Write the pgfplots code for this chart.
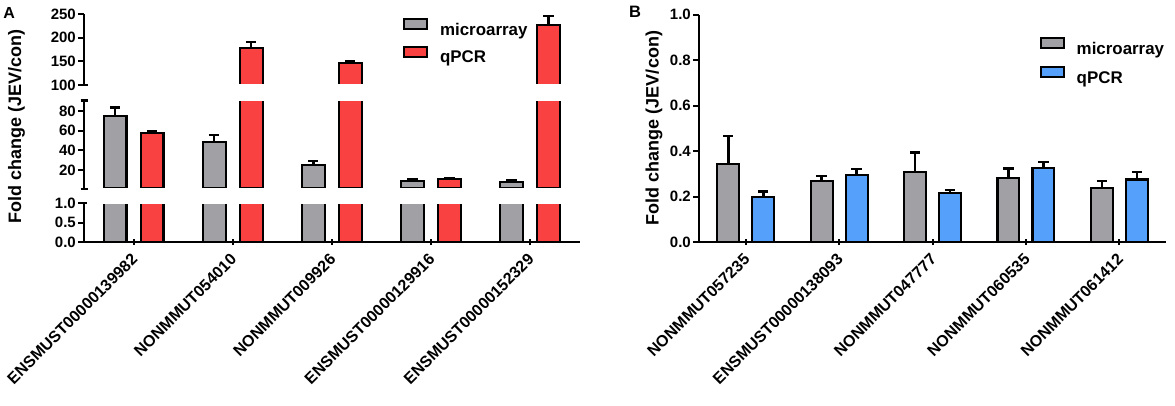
\documentclass[border=0pt]{standalone}
\usepackage{fontspec}
\setmainfont{Liberation Sans}
\usepackage{pgfplots}
\usepackage{pgfplotstable}
\pgfplotsset{compat=1.18}
\definecolor{cgray}{RGB}{160,160,165}
\definecolor{cred}{RGB}{250,65,65}
\definecolor{cblue}{RGB}{85,160,250}

\pgfplotstableread{
x y e
0 74.9 8.9
1 48.5 7.4
2 25.4 3.8
3 8.8 1.4
4 7.5 2.0
}\grayA
\pgfplotstableread{
x y e
0 57.9 2.1
1 177.5 13.3
2 147.1 2.1
3 10.5 1.0
4 227.0 19.0
}\redA
\pgfplotstableread{
x y e
0 0.342 0.125
1 0.268 0.022
2 0.306 0.088
3 0.280 0.044
4 0.236 0.032
}\grayB
\pgfplotstableread{
x y e
0 0.199 0.024
1 0.296 0.025
2 0.214 0.015
3 0.327 0.025
4 0.275 0.033
}\blueB

\pgfplotsset{
  seg/.style={
    scale only axis,
    anchor=south west,
    xmin=-0.5, xmax=4.5,
    axis y line=left,
    tick align=outside,
    major tick length=6pt,
    major tick style={black, line width=2pt},
    yticklabel style={font=\fontsize{15}{18}\selectfont\bfseries, inner xsep=2pt},
    xticklabel style={font=\fontsize{16}{19}\selectfont\bfseries, xshift=-3pt, yshift=-6pt, rotate=45, anchor=north east, inner sep=1pt},
    ybar,
    clip=false,
    extra tick style={tick align=center, major tick length=7pt},
    extra y tick labels={},
  },
  fin/.style={
    axis line style={-, line width=2pt, black},
    every outer x axis line/.append style={-},
    every outer y axis line/.append style={-},
  },
  eb/.style={error bars/.cd, y dir=plus, y explicit, error mark=|,
    error bar style={line width=2.6pt, black},
    error mark options={line width=2.6pt, mark size=5.2pt, black}},
  bstyle/.style={draw=black, fill=#1, line width=2.1pt},
}

\begin{document}
\begin{tikzpicture}
\path[use as bounding box] (0pt,0pt) rectangle (1175pt,405pt);

% ---------- Panel A: bottom segment (0 - 1) ----------
\begin{axis}[seg, at={(84pt,163pt)}, width=495.5pt, height=39pt,
  ymin=0, ymax=1, ytick={0,0.5,1}, yticklabels={0.0,0.5,1.0},
  extra y ticks={1},
  axis x line=bottom,
  xtick={0,1,2,3,4},
  xticklabels={ENSMUST00000139982,NONMMUT054010,NONMMUT009926,ENSMUST00000129916,ENSMUST00000152329},
  bar width=22.9pt, fin]
\begin{scope}
\clip ([yshift=-2pt]rel axis cs:0,0) rectangle ([yshift=-1.3pt]rel axis cs:1,1);
\addplot[bstyle=cgray, bar shift=-18.5pt, eb] table[x=x,y=y,y error=e] {\grayA};
\addplot[bstyle=cred, bar shift=18.5pt, eb] table[x=x,y=y,y error=e] {\redA};
\end{scope}
\end{axis}

% ---------- Panel A: middle segment (1 - 91) ----------
\begin{axis}[seg, at={(84pt,216.5pt)}, width=495.5pt, height=88pt,
  ymin=1, ymax=91, ytick={20,40,60,80}, yticklabels={20,40,60,80},
  extra y ticks={1,91},
  axis x line=none, xtick=\empty,
  ylabel={Fold change (JEV/con)},
  ylabel style={at={(axis description cs:-0.136,0.7045)}, anchor=center, font=\fontsize{18}{21}\selectfont\bfseries},
  bar width=22.9pt, fin]
\begin{scope}
\clip ([yshift=1.3pt]rel axis cs:0,0) rectangle ([yshift=-1.3pt]rel axis cs:1,1);
\addplot[bstyle=cgray, bar shift=-18.5pt, eb] table[x=x,y=y,y error=e] {\grayA};
\addplot[bstyle=cred, bar shift=18.5pt, eb] table[x=x,y=y,y error=e] {\redA};
\end{scope}
\end{axis}

% ---------- Panel A: top segment (100 - 250) ----------
\begin{axis}[seg, at={(84pt,320pt)}, width=495.5pt, height=71pt,
  ymin=100, ymax=250, ytick={100,150,200,250}, yticklabels={100,150,200,250},
  extra y ticks={100},
  axis x line=none, xtick=\empty,
  bar width=22.9pt,
  legend style={at={(axis description cs:0.644,0.942)}, anchor=north west,
    draw=none, fill=none, inner sep=0pt, outer sep=0pt,
    row sep=8.8pt, column sep=12pt,
    font=\fontsize{16.9}{20}\selectfont\bfseries,
    nodes={inner sep=0pt}},
  legend cell align=left, fin]
\begin{scope}
\clip ([yshift=1.3pt]rel axis cs:0,0) rectangle ([yshift=3pt]rel axis cs:1,1);
\addplot[bstyle=cgray, bar shift=-18.5pt,
  legend image code/.code={\draw[draw=black, fill=cgray, line width=2pt] (0pt,0.9pt) rectangle (23pt,10.9pt);}, eb]
  table[x=x,y=y,y error=e] {\grayA};
\addlegendentry{microarray}
\addplot[bstyle=cred, bar shift=18.5pt,
  legend image code/.code={\draw[draw=black, fill=cred, line width=2pt] (0pt,0.9pt) rectangle (23pt,10.9pt);}, eb]
  table[x=x,y=y,y error=e] {\redA};
\addlegendentry{qPCR}
\end{scope}
\end{axis}

% ---------- Panel B ----------
\begin{axis}[seg, at={(699pt,163pt)}, width=467pt, height=227.3pt,
  ymin=0, ymax=1, ytick={0,0.2,0.4,0.6,0.8,1}, yticklabels={0.0,0.2,0.4,0.6,0.8,1.0},
  axis x line=bottom,
  xtick={0,1,2,3,4},
  xticklabels={NONMMUT057235,ENSMUST00000138093,NONMMUT047777,NONMMUT060535,NONMMUT061412},
  ylabel={Fold change (JEV/con)},
  ylabel style={at={(axis description cs:-0.0964,0.5015)}, anchor=center, font=\fontsize{18}{21}\selectfont\bfseries},
  bar width=21.9pt,
  legend style={at={(axis description cs:0.7296,0.900)}, anchor=north west,
    draw=none, fill=none, inner sep=0pt, outer sep=0pt,
    row sep=9.8pt, column sep=12pt,
    font=\fontsize{16.9}{20}\selectfont\bfseries,
    nodes={inner sep=0pt}},
  legend cell align=left, fin]
\addplot[bstyle=cgray, bar shift=-17.5pt,
  legend image code/.code={\draw[draw=black, fill=cgray, line width=2pt] (0pt,0.9pt) rectangle (23pt,10.9pt);}, eb]
  table[x=x,y=y,y error=e] {\grayB};
\addlegendentry{microarray}
\addplot[bstyle=cblue, bar shift=17.5pt,
  legend image code/.code={\draw[draw=black, fill=cblue, line width=2pt] (0pt,0.9pt) rectangle (23pt,10.9pt);}, eb]
  table[x=x,y=y,y error=e] {\blueB};
\addlegendentry{qPCR}
\end{axis}

\node[font=\fontsize{16}{19}\selectfont\bfseries] at (9.2pt,392.5pt) {A};
\node[font=\fontsize{16.5}{19}\selectfont\bfseries] at (635pt,393.5pt) {B};
\end{tikzpicture}
\end{document}
